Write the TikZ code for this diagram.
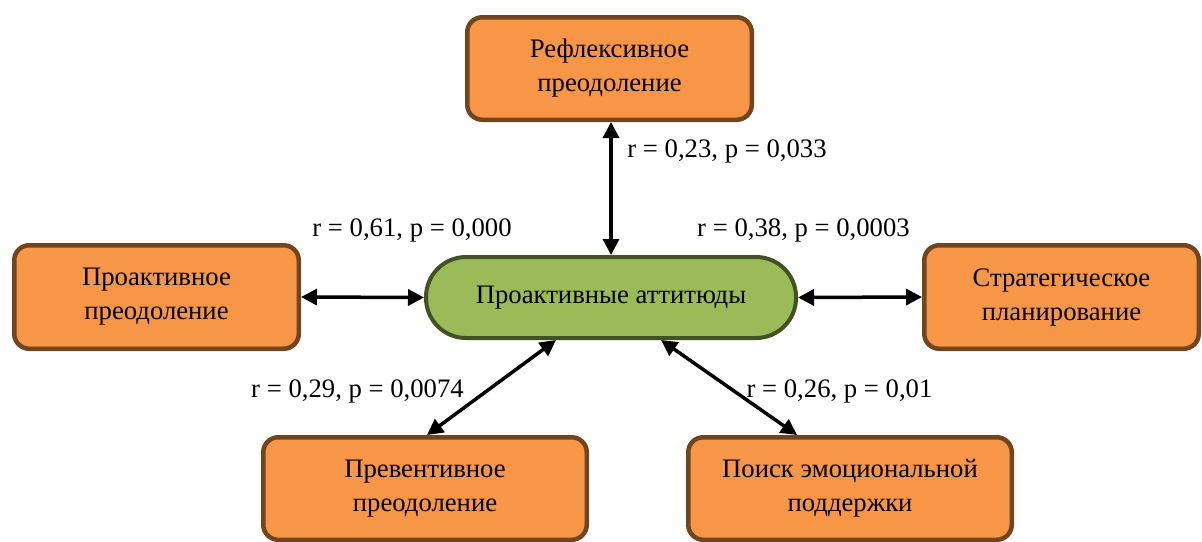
\documentclass[tikz,border=0pt]{standalone}
\usepackage{fontspec}
\setmainfont{Liberation Serif}
\usetikzlibrary{arrows.meta,calc}
\definecolor{boxfill}{HTML}{F79646}
\definecolor{boxline}{RGB}{112,70,32}
\definecolor{ovalfill}{HTML}{9BBB59}
\definecolor{ovalline}{RGB}{66,82,36}
\tikzset{
  orbox/.style={draw=boxline, fill=boxfill, line width=2.25pt, rounded corners=7.5pt,
    align=center, font=\fontsize{13.35}{17}\selectfont, inner sep=0pt},
  oval/.style={draw=ovalline, fill=ovalfill, line width=2pt, rounded corners=20pt,
    align=center, font=\fontsize{13.35}{17}\selectfont, inner sep=0pt,
    minimum width=185pt, minimum height=40.5pt},
  link/.style={line width=1.75pt, {Triangle[length=8pt,width=8pt]}-{Triangle[length=8pt,width=8pt]}},
  lab/.style={font=\fontsize{13.35}{17}\selectfont, inner sep=0pt, anchor=base}
}
\begin{document}
\begin{tikzpicture}[x=0.5pt,y=-0.5pt]
\useasboundingbox (0,0) rectangle (1202,541);
% nodes
\node[oval] (c) at (611,297.5) {Проактивные аттитюды};
\node[orbox, minimum width=142.25pt, minimum height=51.25pt] (t) at (609.5,68.5) {Рефлексивное\\преодоление};
\node[orbox, minimum width=142.25pt, minimum height=51.75pt] (l) at (156.5,297) {Проактивное\\преодоление};
\node[orbox, minimum width=137.25pt, minimum height=51.75pt] (r) at (1061.5,297) {Стратегическое\\планирование};
\node[orbox, minimum width=161.75pt, minimum height=51.25pt] (bl) at (425,488.5) {Превентивное\\преодоление};
\node[orbox, minimum width=161.75pt, minimum height=51.25pt] (br) at (850,488.5) {Поиск эмоциональной\\поддержки};
% connectors
\draw[link] (t.south -| c.north) -- (c.north);
\draw[link] (l.east) -- (c.west);
\draw[link] (c.east) -- (r.west);
\draw[link] ([xshift=-27.5pt]c.south) -- ([xshift=1pt]bl.north);
\draw[link] ([xshift=25pt]c.south) -- ([xshift=-26.5pt]br.north);
% labels
\node[lab, anchor=base west] (l1) at (627,157) {r = 0,23, p = 0,033};
\node[lab] (l2) at (412,236) {r = 0,61, p = 0,000};
\node[lab] (l3) at (803.5,236) {r = 0,38, p = 0,0003};
\node[lab] (l4) at (357.5,397) {r = 0,29, p = 0,0074};
\node[lab] (l5) at (839.5,397) {r = 0,26, p = 0,01};
\end{tikzpicture}
\end{document}
